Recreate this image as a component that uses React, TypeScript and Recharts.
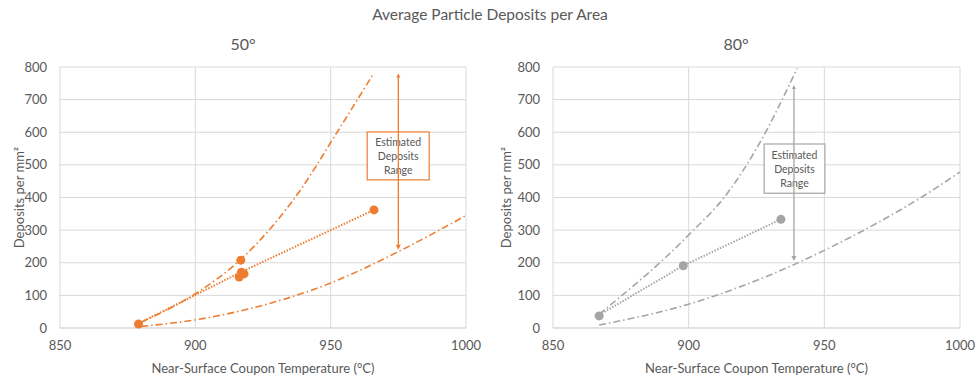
import React from 'react';
import {
  ComposedChart,
  Line,
  Scatter,
  XAxis,
  YAxis,
  CartesianGrid,
  ReferenceLine,
  ReferenceArea,
} from 'recharts';

// ---------- data ----------
const xTicks = [850, 900, 950, 1000];
const yTicks = [0, 100, 200, 300, 400, 500, 600, 700, 800];

const chartTitle = 'Average Particle Deposits per Area';
const panelTitles = ['50°', '80°'];
const xLabel = 'Near-Surface Coupon Temperature (°C)';
const yLabel = 'Deposits per mm²';
const boxLines = ['Estimated', 'Deposits', 'Range'];

// 50° panel
const points50 = [
  { x: 879, y: 12 },
  { x: 916.8, y: 208 },
  { x: 916.2, y: 156 },
  { x: 917, y: 171 },
  { x: 918, y: 166 },
  { x: 966, y: 362 },
];
const trend50 = [
  { x: 880, y: 18 },
  { x: 917, y: 172 },
  { x: 966, y: 362 },
];
const upper50 = [
  { x: 880, y: 18 },
  { x: 900, y: 105 },
  { x: 917, y: 212 },
  { x: 939, y: 425 },
  { x: 952, y: 595 },
  { x: 966, y: 782 },
];
const lower50 = [
  { x: 880, y: 5 },
  { x: 900, y: 25 },
  { x: 917, y: 53 },
  { x: 950, y: 138 },
  { x: 975, y: 234 },
  { x: 1000, y: 345 },
];
const arrow50 = { x: 975, top: 780, bottom: 240 };
const box50 = { x1: 963.5, x2: 986.4, y1: 454, y2: 601 };

// 80° panel
const points80 = [
  { x: 867, y: 37 },
  { x: 898, y: 191 },
  { x: 934, y: 333 },
];
const trend80 = [
  { x: 867, y: 40 },
  { x: 898, y: 191 },
  { x: 934, y: 333 },
];
const upper80 = [
  { x: 867, y: 42 },
  { x: 900, y: 285 },
  { x: 914, y: 410 },
  { x: 925, y: 550 },
  { x: 940, y: 796 },
];
const lower80 = [
  { x: 867, y: 9 },
  { x: 900, y: 73 },
  { x: 939, y: 195 },
  { x: 950, y: 238 },
  { x: 990, y: 423 },
  { x: 1000, y: 478 },
];
const arrow80 = { x: 938.8, top: 745, bottom: 205 };
const box80 = { x1: 927.8, x2: 950.2, y1: 413, y2: 564 };

// ---------- styling ----------
const FONT = 'Lato, "Open Sans", sans-serif';
const TEXT = '#595959';
const GRID = '#d9d9d9';
const ORANGE = '#ED7D31';
const GRAY = '#A5A5A5';

const ArrowShape = (props: any) => {
  const { x1, y1, x2, y2, color } = props;
  if (x1 == null || y1 == null) return null;
  const top = Math.min(y1, y2);
  const bot = Math.max(y1, y2);
  const x = x1;
  return (
    <g>
      <line x1={x} y1={top + 2} x2={x} y2={bot - 2} stroke={color} strokeWidth={1.3} />
      <path d={`M${x - 2},${top + 4} L${x},${top} L${x + 2},${top + 4} Z`} fill={color} />
      <path d={`M${x - 2.5},${bot - 5} L${x},${bot} L${x + 2.5},${bot - 5} Z`} fill={color} />
    </g>
  );
};

const BoxShape = (props: any) => {
  const { x, y, width, height, color } = props;
  if (x == null) return null;
  const cx = x + width / 2;
  const cy = y + height / 2;
  return (
    <g>
      <rect x={x} y={y} width={width} height={height} fill="#ffffff" stroke={color} strokeWidth={1.2} />
      {boxLines.map((t, i) => (
        <text
          key={t}
          x={cx}
          y={cy + (i - 1) * 14}
          textAnchor="middle"
          dominantBaseline="central"
          fontSize={10.5}
          fontFamily={FONT}
          fill={TEXT}
        >
          {t}
        </text>
      ))}
    </g>
  );
};

type Pt = { x: number; y: number };
type PanelProps = {
  color: string;
  points: Pt[];
  trend: Pt[];
  upper: Pt[];
  lower: Pt[];
  arrow: { x: number; top: number; bottom: number };
  box: { x1: number; x2: number; y1: number; y2: number };
  yAxisWidth: number;
  marginRight: number;
  yLabelX: number;
};

const Panel = (p: PanelProps) => (
  <ComposedChart
    width={490}
    height={379}
    margin={{ top: 67, right: p.marginRight, bottom: 0, left: 0 }}
  >
    <CartesianGrid stroke={GRID} strokeWidth={1} />
    <XAxis
      type="number"
      dataKey="x"
      domain={[850, 1000]}
      ticks={xTicks}
      interval={0}
      height={51}
      tickSize={0}
      tickMargin={13}
      axisLine={{ stroke: GRID }}
      tick={{ fill: TEXT, fontSize: 13, fontFamily: FONT }}
      label={{
        value: xLabel,
        position: 'insideBottom',
        offset: 6,
        fill: TEXT,
        fontSize: 13,
        fontFamily: FONT,
      }}
    />
    <YAxis
      type="number"
      dataKey="y"
      domain={[0, 800]}
      ticks={yTicks}
      interval={0}
      width={p.yAxisWidth}
      tickSize={0}
      tickMargin={13}
      axisLine={false}
      tick={{ fill: TEXT, fontSize: 13, fontFamily: FONT }}
      label={{
        content: (lp: any) => {
          const vb = lp.viewBox || { x: 0, y: 67, width: 60, height: 261 };
          const cx = p.yLabelX;
          const cy = vb.y + vb.height / 2;
          return (
            <text
              x={cx}
              y={cy}
              transform={`rotate(-90 ${cx} ${cy})`}
              textAnchor="middle"
              dominantBaseline="central"
              fill={TEXT}
              fontSize={13}
              fontFamily={FONT}
            >
              {yLabel}
            </text>
          );
        },
      }}
    />
    <Line
      data={p.upper}
      dataKey="y"
      type="monotone"
      stroke={p.color}
      strokeWidth={1.6}
      strokeDasharray="7 3 1.5 3"
      dot={false}
      isAnimationActive={false}
    />
    <Line
      data={p.lower}
      dataKey="y"
      type="monotone"
      stroke={p.color}
      strokeWidth={1.6}
      strokeDasharray="7 3 1.5 3"
      dot={false}
      isAnimationActive={false}
    />
    <Line
      data={p.trend}
      dataKey="y"
      type="linear"
      stroke={p.color}
      strokeWidth={2}
      strokeDasharray="1.5 1.5"
      dot={false}
      isAnimationActive={false}
    />
    <Scatter
      data={p.points}
      dataKey="y"
      fill={p.color}
      shape="circle"
      isAnimationActive={false}
    />
    <ReferenceLine
      segment={[
        { x: p.arrow.x, y: p.arrow.top },
        { x: p.arrow.x, y: p.arrow.bottom },
      ]}
      stroke={p.color}
      shape={(sp: any) => <ArrowShape {...sp} color={p.color} />}
    />
    <ReferenceArea
      x1={p.box.x1}
      x2={p.box.x2}
      y1={p.box.y1}
      y2={p.box.y2}
      shape={(sp: any) => <BoxShape {...sp} color={p.color} />}
    />
  </ComposedChart>
);

const titleStyle = (left: number, width: number, top: number, size: number): React.CSSProperties => ({
  position: 'absolute',
  left,
  width,
  top,
  textAlign: 'center',
  fontSize: size,
  color: TEXT,
  lineHeight: `${size + 4}px`,
  whiteSpace: 'nowrap',
});

export default function App() {
  return (
    <div
      style={{
        position: 'absolute',
        left: 0,
        top: 0,
        width: 980,
        height: 379,
        background: '#ffffff',
        fontFamily: FONT,
        overflow: 'hidden',
      }}
    >
      <div style={titleStyle(0, 980, 5, 15.5)}>{chartTitle}</div>
      <div style={titleStyle(143, 200, 34, 16)}>{panelTitles[0]}</div>
      <div style={titleStyle(636, 200, 34, 16)}>{panelTitles[1]}</div>
      <div style={{ position: 'absolute', left: 0, top: 0 }}>
        <Panel
          color={ORANGE}
          points={points50}
          trend={trend50}
          upper={upper50}
          lower={lower50}
          arrow={arrow50}
          box={box50}
          yAxisWidth={60}
          marginRight={24}
          yLabelX={19}
        />
      </div>
      <div style={{ position: 'absolute', left: 490, top: 0 }}>
        <Panel
          color={GRAY}
          points={points80}
          trend={trend80}
          upper={upper80}
          lower={lower80}
          arrow={arrow80}
          box={box80}
          yAxisWidth={63}
          marginRight={20}
          yLabelX={16}
        />
      </div>
    </div>
  );
}
